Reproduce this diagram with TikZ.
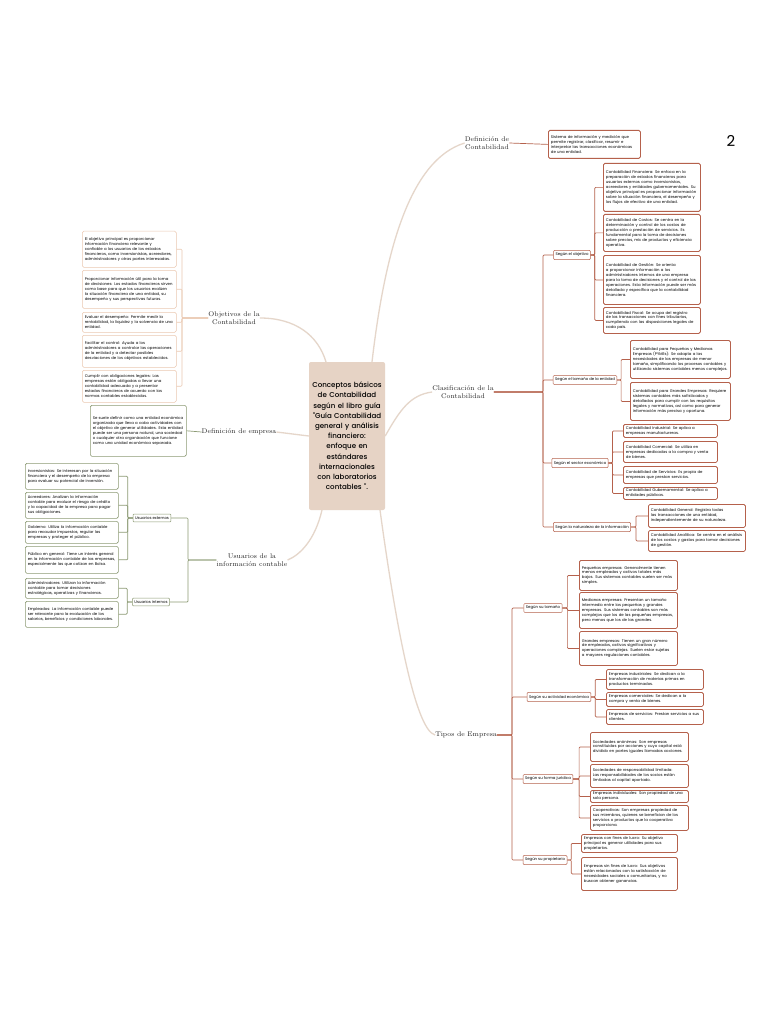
\documentclass[tikz,border=0pt]{standalone}
\usepackage{fontspec}
\setmainfont{Latin Modern Roman}
\newfontfamily\pop{Poppins}
\newfontfamily\popm{Poppins Medium}
\hyphenpenalty=10000
\exhyphenpenalty=10000
\begin{document}
\begin{tikzpicture}[x=1pt,y=-1pt,
  every node/.style={inner sep=0pt},
  tiny/.style={font=\pop\fontsize{3.85pt}{4.9pt}\selectfont, align=left},
  rbox/.style={tiny, draw=rbr, line width=0.8pt, rounded corners=1.5pt, fill=white, inner xsep=2.5pt, inner ysep=1.2pt},
  obox/.style={tiny, draw=obr, line width=0.5pt, rounded corners=1.5pt, fill=white, inner xsep=2.5pt, inner ysep=1.2pt},
  gbox/.style={tiny, draw=gbr, line width=0.6pt, rounded corners=1.5pt, fill=white, inner xsep=2.5pt, inner ysep=1.2pt},
  rsub/.style={tiny, draw=rbr, line width=0.5pt, rounded corners=1pt, inner xsep=2pt, inner ysep=2.5pt},
  gsub/.style={tiny, draw=gbr, line width=0.5pt, rounded corners=1pt, inner xsep=2pt, inner ysep=2.5pt},
  lab/.style={font=\fontsize{6.8pt}{8.3pt}\selectfont, align=center, text=black!85},
  rl/.style={draw=rbr, line width=0.7pt, rounded corners=1pt},
  gl/.style={draw=gbr, line width=0.7pt, rounded corners=1pt},
  ol/.style={draw=obr, line width=0.6pt, rounded corners=1pt},
  big/.style={draw=cbr, line width=1.3pt}
]
\definecolor{rbr}{HTML}{B5614C}
\definecolor{obr}{HTML}{EBC9B2}
\definecolor{gbr}{HTML}{8C9A74}
\definecolor{cbr}{HTML}{E5D6CA}
\definecolor{cfill}{HTML}{E6D3C5}
\newcommand\bx[7]{\node[#1, anchor=north west, text width=#4-#3-5pt, minimum height=#6-#5] (#2) at (#3,#5) {#7};}
\fill[white] (0,0) rectangle (768,1024);
\useasboundingbox (0,0) rectangle (768,1024);

\node[font=\pop\fontsize{15pt}{15pt}\selectfont] (pg) at (731,141) {2};

% center
\node[fill=cfill, rounded corners=2pt, minimum width=76pt, minimum height=148pt, text width=74pt, align=center,
  font=\popm\fontsize{7.1pt}{10.2pt}\selectfont] (c) at (347,436)
 {Conceptos básicos\\de Contabilidad\\según el libro guía\\"Guía Contabilidad\\general y análisis\\financiero:\\enfoque en\\estándares\\internacionales\\con laboratorios\\contables ".};

% labels
\node[lab] (dc) at (487,143) {Definición de\\Contabilidad};
\node[lab] (cl) at (463,392) {Clasificación de la\\Contabilidad};
\node[lab] (ob) at (234,318) {Objetivos de la\\Contabilidad};
\node[lab] (de) at (239,432) {Definición de empresa};
\node[lab] (us) at (252,560) {Usuarios de la\\información contable};
\node[lab] (te) at (466,735) {Tipos de Empresa};

\coordinate (c1) at (372,362);
\coordinate (c2) at (326,362);
\coordinate (c3) at (322,510);
\coordinate (c4) at (380,510);
\draw[big] (c1) .. controls (385,250) and (410,160) .. (dc.west);
\draw[big] (c2) .. controls (318,335) and (295,318) .. (ob.east);
\draw[big] (c.west) -- (de.east);
\draw[big] (c3) .. controls (315,540) and (300,555) .. (us.east);
\draw[big] (c.east) .. controls (400,410) and (410,395) .. (cl.west);
\draw[big] (c4) .. controls (395,620) and (415,730) .. (te.west);

% Definicion de contabilidad
\bx{rbox}{dc1}{548}{640}{130}{158}{Sistema de información y medición que permite registrar, clasificar, resumir e interpretar las transacciones económicas de una entidad.}
\draw[rl] (dc.east) -- (dc1.west);

% Clasificacion
\node[rsub] (s1) at (572,255) {Según el objetivo};
\node[rsub] (s2) at (585,380) {Según el tamaño de la entidad};
\node[rsub] (s3) at (580,463) {Según el sector económico};
\node[rsub] (s4) at (592,527) {Según la naturaleza de la información};
\coordinate (cj) at (543,392);
\foreach \s in {s1,s2,s3,s4} \draw[rl] (cl.east) -- (cj) |- (\s.west);

\bx{rbox}{o1}{603}{700}{163}{211}{Contabilidad Financiera: Se enfoca en la preparación de estados financieros para usuarios externos como inversionistas, acreedores y entidades gubernamentales. Su objetivo principal es proporcionar información sobre la situación financiera, el desempeño y los flujos de efectivo de una entidad.}
\bx{rbox}{o2}{603}{700}{214}{251}{Contabilidad de Costos: Se centra en la determinación y control de los costos de producción o prestación de servicios. Es fundamental para la toma de decisiones sobre precios, mix de productos y eficiencia operativa.}
\bx{rbox}{o3}{603}{700}{255}{304}{Contabilidad de Gestión: Se orienta a proporcionar información a los administradores internos de una empresa para la toma de decisiones y el control de las operaciones. Esta información puede ser más detallada y específica que la contabilidad financiera.}
\bx{rbox}{o4}{603}{700}{307}{333}{Contabilidad Fiscal: Se ocupa del registro de las transacciones con fines tributarios, cumpliendo con las disposiciones legales de cada país.}
\foreach \b in {o1,o2,o3,o4} \draw[rl] (s1.east) -- ++(4,0) |- (\b.west);

\bx{rbox}{t1}{630}{730}{340}{378}{Contabilidad para Pequeñas y Medianas Empresas (PYMEs): Se adapta a las necesidades de las empresas de menor tamaño, simplificando los procesos contables y utilizando sistemas contables menos complejos.}
\bx{rbox}{t2}{630}{730}{382}{420}{Contabilidad para Grandes Empresas: Requiere sistemas contables más sofisticados y detallados para cumplir con los requisitos legales y normativos, así como para generar información más precisa y oportuna.}
\foreach \b in {t1,t2} \draw[rl] (s2.east) -- ++(4,0) |- (\b.west);

\bx{rbox}{e1}{623}{717}{424}{437}{Contabilidad Industrial: Se aplica a empresas manufactureras.}
\bx{rbox}{e2}{623}{717}{441}{462}{Contabilidad Comercial: Se utiliza en empresas dedicadas a la compra y venta de bienes.}
\bx{rbox}{e3}{623}{717}{466}{483}{Contabilidad de Servicios: Es propia de empresas que prestan servicios.}
\bx{rbox}{e4}{623}{717}{487}{499}{Contabilidad Gubernamental: Se aplica a entidades públicas.}
\foreach \b in {e1,e2,e3,e4} \draw[rl] (s3.east) -- ++(4,0) |- (\b.west);

\bx{rbox}{n1}{648}{745}{504}{527}{Contabilidad General: Registra todas las transacciones de una entidad, independientemente de su naturaleza.}
\bx{rbox}{n2}{648}{745}{530}{551}{Contabilidad Analítica: Se centra en el análisis de los costos y gastos para tomar decisiones de gestión.}
\foreach \b in {n1,n2} \draw[rl] (s4.east) -- ++(5,0) |- (\b.west);

% Objetivos
\bx{obox}{b1}{82}{176}{231}{267}{El objetivo principal es proporcionar información financiera relevante y confiable a los usuarios de los estados financieros, como inversionistas, acreedores, administradores y otras partes interesadas.}
\bx{obox}{b2}{82}{176}{270}{308}{Proporcionar información útil para la toma de decisiones: Los estados financieros sirven como base para que los usuarios evalúen la situación financiera de una entidad, su desempeño y sus perspectivas futuras.}
\bx{obox}{b3}{82}{176}{312}{332}{Evaluar el desempeño: Permite medir la rentabilidad, la liquidez y la solvencia de una entidad.}
\bx{obox}{b4}{82}{176}{335}{367}{Facilitar el control: Ayuda a los administradores a controlar las operaciones de la entidad y a detectar posibles desviaciones de los objetivos establecidos.}
\bx{obox}{b5}{82}{176}{370}{402}{Cumplir con obligaciones legales: Las empresas están obligadas a llevar una contabilidad adecuada y a presentar estados financieros de acuerdo con las normas contables establecidas.}
\coordinate (oj) at (182,318);
\foreach \b in {b1,b2,b3,b4,b5} \draw[ol] (ob.west) -- (oj) |- (\b.east);

% Definicion de empresa
\bx{gbox}{de1}{90}{186}{405}{456}{Se suele definir como una entidad económica organizada que lleva a cabo actividades con el objetivo de generar utilidades. Esta entidad puede ser una persona natural, una sociedad o cualquier otra organización que funcione como una unidad económica separada.}
\draw[gl] (de.west) -- (de1.east);

% Usuarios
\node[gsub] (ue) at (152,518) {Usuarios externos};
\node[gsub] (ui) at (151,602) {Usuarios internos};
\coordinate (uj) at (188,560);
\foreach \s in {ue,ui} \draw[gl] (us.west) -- (uj) |- (\s.east);
\bx{gbox}{u1}{25}{118}{463}{489}{Inversionistas: Se interesan por la situación financiera y el desempeño de la empresa para evaluar su potencial de inversión.}
\bx{gbox}{u2}{25}{118}{492}{518}{Acreedores: Analizan la información contable para evaluar el riesgo de crédito y la capacidad de la empresa para pagar sus obligaciones.}
\bx{gbox}{u3}{25}{118}{521}{543}{Gobierno: Utiliza la información contable para recaudar impuestos, regular las empresas y proteger el público.}
\bx{gbox}{u4}{25}{118}{546}{573}{Público en general: Tiene un interés general en la información contable de las empresas, especialmente las que cotizan en Bolsa.}
\bx{gbox}{u5}{25}{118}{578}{598}{Administradores: Utilizan la información contable para tomar decisiones estratégicas, operativas y financieras.}
\bx{gbox}{u6}{25}{118}{601}{627}{Empleados: La información contable puede ser relevante para la evaluación de los salarios, beneficios y condiciones laborales.}
\foreach \b in {u1,u2,u3,u4} \draw[gl] (ue.west) -- ++(-5,0) |- (\b.east);
\foreach \b in {u5,u6} \draw[gl] (ui.west) -- ++(-5,0) |- (\b.east);

% Tipos de empresa
\node[rsub] (p1) at (543,608) {Según su tamaño};
\node[rsub] (p2) at (559,697) {Según su actividad económica};
\node[rsub] (p3) at (548,779) {Según su forma jurídica};
\node[rsub] (p4) at (545,860) {Según su propietario};
\coordinate (tj) at (512,735);
\foreach \s in {p1,p2,p3,p4} \draw[rl] (te.east) -- (tj) |- (\s.west);

\bx{rbox}{a1}{579}{677}{560}{590}{Pequeñas empresas: Generalmente tienen menos empleados y activos totales más bajos. Sus sistemas contables suelen ser más simples.}
\bx{rbox}{a2}{579}{677}{592}{628}{Medianas empresas: Presentan un tamaño intermedio entre las pequeñas y grandes empresas. Sus sistemas contables son más complejos que los de las pequeñas empresas, pero menos que los de las grandes.}
\bx{rbox}{a3}{579}{677}{631}{665}{Grandes empresas: Tienen un gran número de empleados, activos significativos y operaciones complejas. Suelen estar sujetas a mayores regulaciones contables.}
\foreach \b in {a1,a2,a3} \draw[rl] (p1.east) -- ++(5,0) |- (\b.west);

\bx{rbox}{d1}{606}{703}{669}{689}{Empresas industriales: Se dedican a la transformación de materias primas en productos terminados.}
\bx{rbox}{d2}{606}{703}{692}{706}{Empresas comerciales: Se dedican a la compra y venta de bienes.}
\bx{rbox}{d3}{606}{703}{709}{724}{Empresas de servicios: Prestan servicios a sus clientes.}
\foreach \b in {d1,d2,d3} \draw[rl] (p2.east) -- ++(4,0) |- (\b.west);

\bx{rbox}{f1}{590}{688}{732}{761}{Sociedades anónimas: Son empresas constituidas por acciones y cuyo capital está dividido en partes iguales llamadas acciones.}
\bx{rbox}{f2}{590}{688}{764}{787}{Sociedades de responsabilidad limitada: Las responsabilidades de los socios están limitadas al capital aportado.}
\bx{rbox}{f3}{590}{688}{790}{802}{Empresas individuales: Son propiedad de una sola persona.}
\bx{rbox}{f4}{590}{688}{805}{830}{Cooperativas: Son empresas propiedad de sus miembros, quienes se benefician de los servicios o productos que la cooperativa proporciona.}
\foreach \b in {f1,f2,f3,f4} \draw[rl] (p3.east) -- ++(6,0) |- (\b.west);

\bx{rbox}{g1}{581}{677}{834}{852}{Empresas con fines de lucro: Su objetivo principal es generar utilidades para sus propietarios.}
\bx{rbox}{g2}{581}{677}{857}{890}{Empresas sin fines de lucro: Sus objetivos están relacionados con la satisfacción de necesidades sociales o comunitarias, y no buscan obtener ganancias.}
\foreach \b in {g1,g2} \draw[rl] (p4.east) -- ++(4,0) |- (\b.west);
\end{tikzpicture}
\end{document}
